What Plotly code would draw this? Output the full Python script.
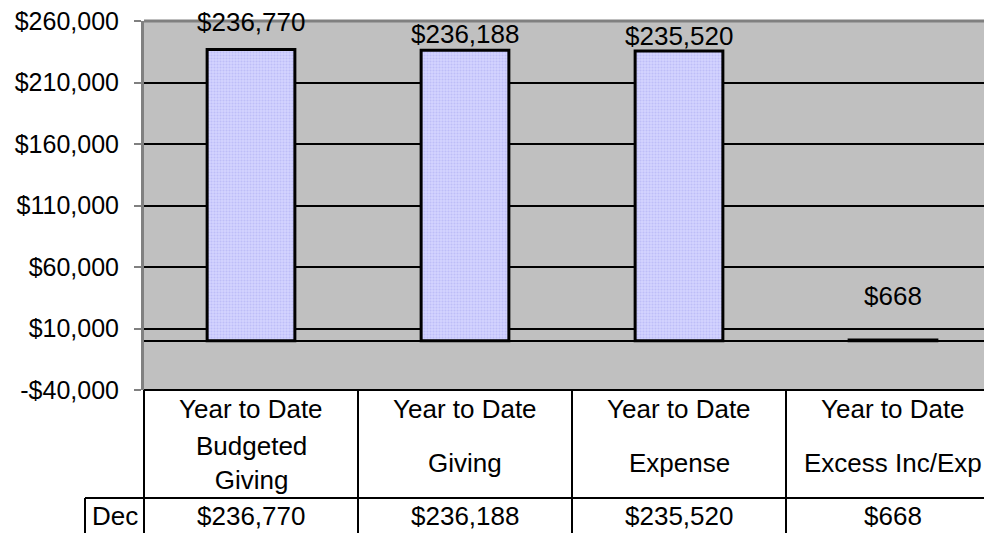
import plotly.graph_objects as go

# ---- data ----
header_top = ["Year to Date", "Year to Date", "Year to Date", "Year to Date"]
header_bottom = ["Budgeted<br>Giving", "Giving", "Expense", "Excess Inc/Exp"]
values = [236770, 236188, 235520, 668]
value_text = ["$236,770", "$236,188", "$235,520", "$668"]
row_label = "Dec"
tick_vals = [-40000, 10000, 60000, 110000, 160000, 210000, 260000]
tick_text = ["-$40,000", "$10,000", "$60,000", "$110,000", "$160,000", "$210,000", "$260,000"]

# ---- styling / layout constants ----
W, H = 984, 533
L, T = 144, 21
PLOT_BOTTOM = 390
B = H - PLOT_BOTTOM
plot_h = PLOT_BOTTOM - T
XR = [-0.5, -0.5 + (W - L) / 214.0]
label_shift = [28, 16, 15, 44]
FONT = "Liberation Sans, Arial, sans-serif"
TXT = 26

def px_y(p):
    return (PLOT_BOTTOM - p) / plot_h

def px_x(p):
    return (p - L) / (W - L)

def dx(x):
    return (x - XR[0]) / (XR[1] - XR[0])

xs = list(range(len(values)))

fig = go.Figure()
fig.add_trace(go.Bar(
    x=xs, y=values, width=0.41,
    marker=dict(color="#CCCCFF",
                line=dict(color="black", width=3),
                pattern=dict(shape=".", fgcolor="#A8A8F0", bgcolor="#D4D4FF",
                             size=3, solidity=0.4)),
    hoverinfo="skip",
))

annotations = []
for i, (v, t) in enumerate(zip(values, value_text)):
    annotations.append(dict(x=i, y=v, xref="x", yref="y", text=t, showarrow=False,
                            xanchor="center", yanchor="middle", yshift=label_shift[i],
                            font=dict(family=FONT, size=TXT, color="black")))
    annotations.append(dict(x=i, y=px_y(409), xref="x", yref="paper", text=header_top[i],
                            showarrow=False, xanchor="center", yanchor="middle",
                            font=dict(family=FONT, size=TXT, color="black")))
    annotations.append(dict(x=i, y=px_y(463), xref="x", yref="paper", text=header_bottom[i],
                            showarrow=False, xanchor="center", yanchor="middle",
                            font=dict(family=FONT, size=TXT, color="black")))
    annotations.append(dict(x=i, y=px_y(516), xref="x", yref="paper", text=value_text[i],
                            showarrow=False, xanchor="center", yanchor="middle",
                            font=dict(family=FONT, size=TXT, color="black")))
annotations.append(dict(x=px_x(114.5), y=px_y(516), xref="paper", yref="paper", text=row_label,
                        showarrow=False, xanchor="center", yanchor="middle",
                        font=dict(family=FONT, size=TXT, color="black")))

shapes = []
line_k = dict(color="black", width=2)
# plot top border (gray)
shapes.append(dict(type="line", xref="paper", yref="paper", x0=0, x1=1, y0=1, y1=1,
                   line=dict(color="#808080", width=3), layer="above"))
# plot bottom / table top
shapes.append(dict(type="line", xref="paper", yref="paper", x0=0, x1=1, y0=0, y1=0,
                   line=line_k, layer="above"))
# table verticals
for b in [0.5, 1.5, 2.5]:
    shapes.append(dict(type="line", xref="paper", yref="paper", x0=dx(b), x1=dx(b),
                       y0=0, y1=px_y(H + 5), line=line_k))
shapes.append(dict(type="line", xref="paper", yref="paper", x0=0, x1=0,
                   y0=0, y1=px_y(H + 5), line=line_k))
# row separator
shapes.append(dict(type="line", xref="paper", yref="paper", x0=px_x(85), x1=1,
                   y0=px_y(498), y1=px_y(498), line=line_k))
# Dec cell left border
shapes.append(dict(type="line", xref="paper", yref="paper", x0=px_x(85), x1=px_x(85),
                   y0=px_y(498), y1=px_y(H + 5), line=line_k))

fig.update_layout(
    width=W, height=H,
    margin=dict(l=L, r=0, t=T, b=B, pad=0),
    paper_bgcolor="white", plot_bgcolor="#C0C0C0",
    showlegend=False,
    annotations=annotations, shapes=shapes,
    xaxis=dict(range=XR, showticklabels=False, ticks="", showgrid=False,
               zeroline=False, showline=False, fixedrange=True),
    yaxis=dict(range=[-40000, 260000], tickvals=tick_vals, ticktext=tick_text,
               showgrid=True, gridcolor="black", gridwidth=1.5,
               zeroline=True, zerolinecolor="black", zerolinewidth=1.5,
               showline=True, linecolor="#808080", linewidth=3,
               ticks="outside", ticklen=7, tickcolor="#808080", tickwidth=2,
               ticklabelstandoff=10,
               tickfont=dict(family=FONT, size=25, color="black"), fixedrange=True),
)

fig.write_html(
    "out.html",
    config={"displayModeBar": False},
    post_script="document.body.style.margin='0';document.body.style.overflow='hidden';",
)
